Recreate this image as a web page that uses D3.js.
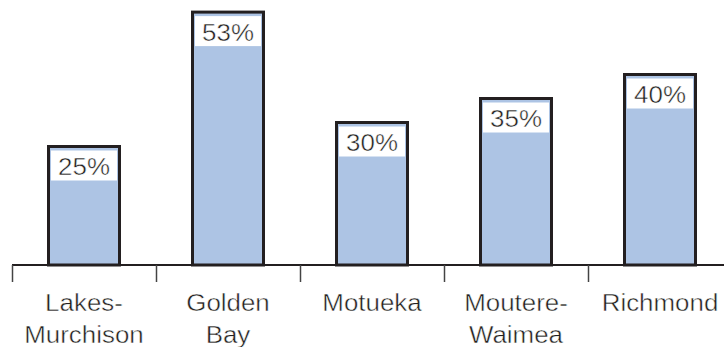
<!DOCTYPE html>
<html><head><meta charset="utf-8">
<script src="https://cdn.jsdelivr.net/npm/d3@7"></script>
<style>html,body{margin:0;padding:0;background:#fff;}svg{display:block;}</style>
</head><body>
<svg id="chart" width="724" height="347"></svg>
<script>
const categories = ["Lakes-Murchison", "Golden Bay", "Motueka", "Moutere-Waimea", "Richmond"];
const labelLines = [["Lakes-", "Murchison"], ["Golden", "Bay"], ["Motueka"], ["Moutere-", "Waimea"], ["Richmond"]];
const values = [25, 53, 30, 35, 40];

const svg = d3.select("#chart");
const baseY = 265;
const x = d3.scaleBand().domain(categories).range([12, 732]).padding(0);
const y = d3.scaleLinear().domain([0, 55]).range([baseY, baseY - 55 * 4.8]);
const barW = 71;
const sx = 1.08;
const font = "'Liberation Sans', Arial, Helvetica, sans-serif";

// axis line
svg.append("line").attr("x1", 12).attr("x2", 724).attr("y1", baseY).attr("y2", baseY)
  .attr("stroke", "#231f20").attr("stroke-width", 2);
// ticks at band boundaries
svg.selectAll("line.tick").data(categories).join("line").attr("class", "tick")
  .attr("x1", d => x(d) + 0.5).attr("x2", d => x(d) + 0.5)
  .attr("y1", baseY).attr("y2", 282)
  .attr("stroke", "#444").attr("stroke-width", 1.5);

const cx = d => x(d) + x.bandwidth() / 2;
const data = categories.map((c, i) => ({c, v: values[i], lines: labelLines[i]}));

// bars
svg.selectAll("rect.bar").data(data).join("rect").attr("class", "bar")
  .attr("x", d => cx(d.c) - barW / 2)
  .attr("y", d => y(d.v) + 1.5)
  .attr("width", barW)
  .attr("height", d => baseY - y(d.v) - 1.5)
  .attr("fill", "#adc4e4").attr("stroke", "#231f20").attr("stroke-width", 3);

// white label boxes
svg.selectAll("rect.lbl").data(data).join("rect").attr("class", "lbl")
  .attr("x", d => cx(d.c) - barW / 2 + 2.5)
  .attr("y", d => y(d.v) + 5.5)
  .attr("width", barW - 5)
  .attr("height", 30)
  .attr("fill", "#fff");

// value labels
svg.selectAll("text.val").data(data).join("text").attr("class", "val")
  .attr("transform", d => `translate(${cx(d.c)},${y(d.v) + 30}) scale(${sx},1)`)
  .attr("text-anchor", "middle")
  .attr("font-family", font).attr("font-size", 24).attr("fill", "#231f20")
  .attr("stroke", "#fff").attr("stroke-width", 0.45)
  .text(d => d.v + "%");

// category labels
const g = svg.selectAll("g.cat").data(data).join("g").attr("class", "cat")
  .attr("transform", d => `translate(${cx(d.c)},0)`);
g.each(function(d) {
  d3.select(this).selectAll("text").data(d.lines).join("text")
    .attr("transform", (t, i) => `translate(0,${310.5 + i * 32}) scale(${sx},1)`)
    .attr("text-anchor", "middle")
    .attr("font-family", font).attr("font-size", 24).attr("fill", "#231f20")
    .attr("stroke", "#fff").attr("stroke-width", 0.45)
    .text(t => t);
});
</script>
</body></html>
